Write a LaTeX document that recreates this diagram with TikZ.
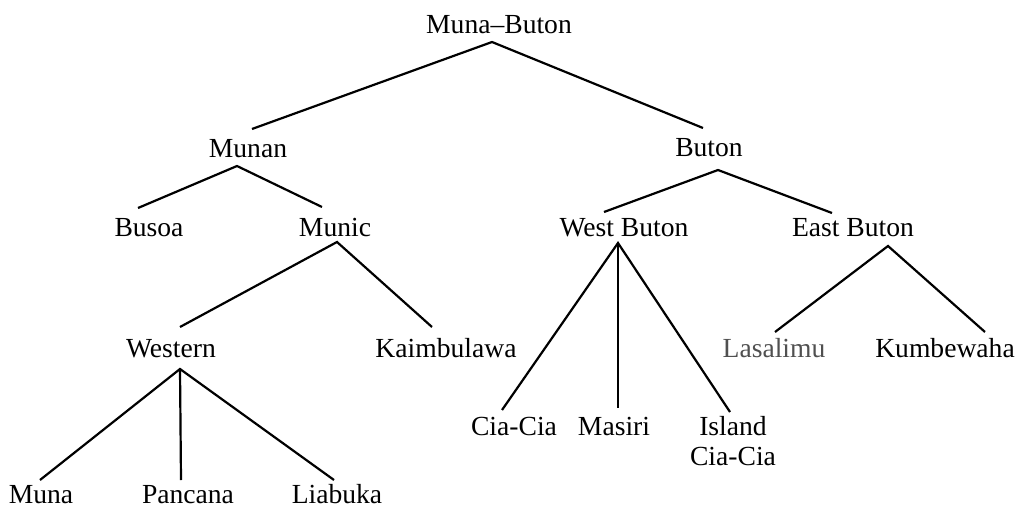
\documentclass[tikz,border=0pt]{standalone}
\usepackage{fontspec}
\setmainfont{Liberation Serif}
\usetikzlibrary{calc}
\definecolor{fadedtext}{HTML}{505050}
\tikzset{
  lang/.style={anchor=base, inner sep=0pt, font=\fontsize{13.8}{15}\selectfont},
  branch/.style={draw=black, line width=1.1pt},
}
\begin{document}
\begin{tikzpicture}[x=0.5pt,y=-0.5pt]
\useasboundingbox (0,0) rectangle (1016,508);
% nodes (positioned at baseline)
\node[lang] (mb) at (499,34) {Muna–Buton};
\node[lang] (munan) at (248,157) {Munan};
\node[lang] (buton) at (709,156) {Buton};
\node[lang] (busoa) at (149,236) {Busoa};
\node[lang] (munic) at (335,236) {Munic};
\node[lang] (wb) at (624,236) {West Buton};
\node[lang] (eb) at (853,236) {East Buton};
\node[lang] (western) at (171,357) {Western};
\node[lang] (kaim) at (446,357) {Kaimbulawa};
\node[lang, text=fadedtext] (lasa) at (774,357) {Lasalimu};
\node[lang] (kumb) at (945,357) {Kumbewaha};
\node[lang] (cia) at (514,435) {Cia-Cia};
\node[lang] (masiri) at (614,435) {Masiri};
\node[lang] (island) at (733,435) {\begin{tabular}[t]{@{}c@{}}Island\\Cia-Cia\end{tabular}};
\node[lang] (muna) at (41,503) {Muna};
\node[lang] (pancana) at (188,503) {Pancana};
\node[lang] (liabuka) at (337,503) {Liabuka};
% connectors
\draw[branch] ($(munan.base)+(4,-28)$) -- ($(mb.base)+(-7,8)$) -- ($(buton.base)+(-6,-28)$);
\draw[branch] ($(busoa.base)+(-11,-28)$) -- ($(munan.base)+(-11,9)$) -- ($(munic.base)+(-13,-29)$);
\draw[branch] ($(wb.base)+(-20,-24)$) -- ($(buton.base)+(9,14)$) -- ($(eb.base)+(-21,-23)$);
\draw[branch] ($(western.base)+(9,-30)$) -- ($(munic.base)+(2,6)$) -- ($(kaim.base)+(-14,-30)$);
\draw[branch] ($(cia.base)+(-12,-25)$) -- ($(wb.base)+(-6,7)$) -- ($(island.base)+(-3,-23)$);
\draw[branch] ($(wb.base)+(-6,7)$) -- ($(masiri.base)+(4,-27)$);
\draw[branch] ($(lasa.base)+(1,-25)$) -- ($(eb.base)+(35,10)$) -- ($(kumb.base)+(40,-25)$);
\draw[branch] ($(muna.base)+(-1,-23)$) -- ($(western.base)+(9,12)$) -- ($(liabuka.base)+(-3,-23)$);
\draw[branch] ($(western.base)+(9,12)$) -- ($(pancana.base)+(-7,-23)$);
\end{tikzpicture}
\end{document}
